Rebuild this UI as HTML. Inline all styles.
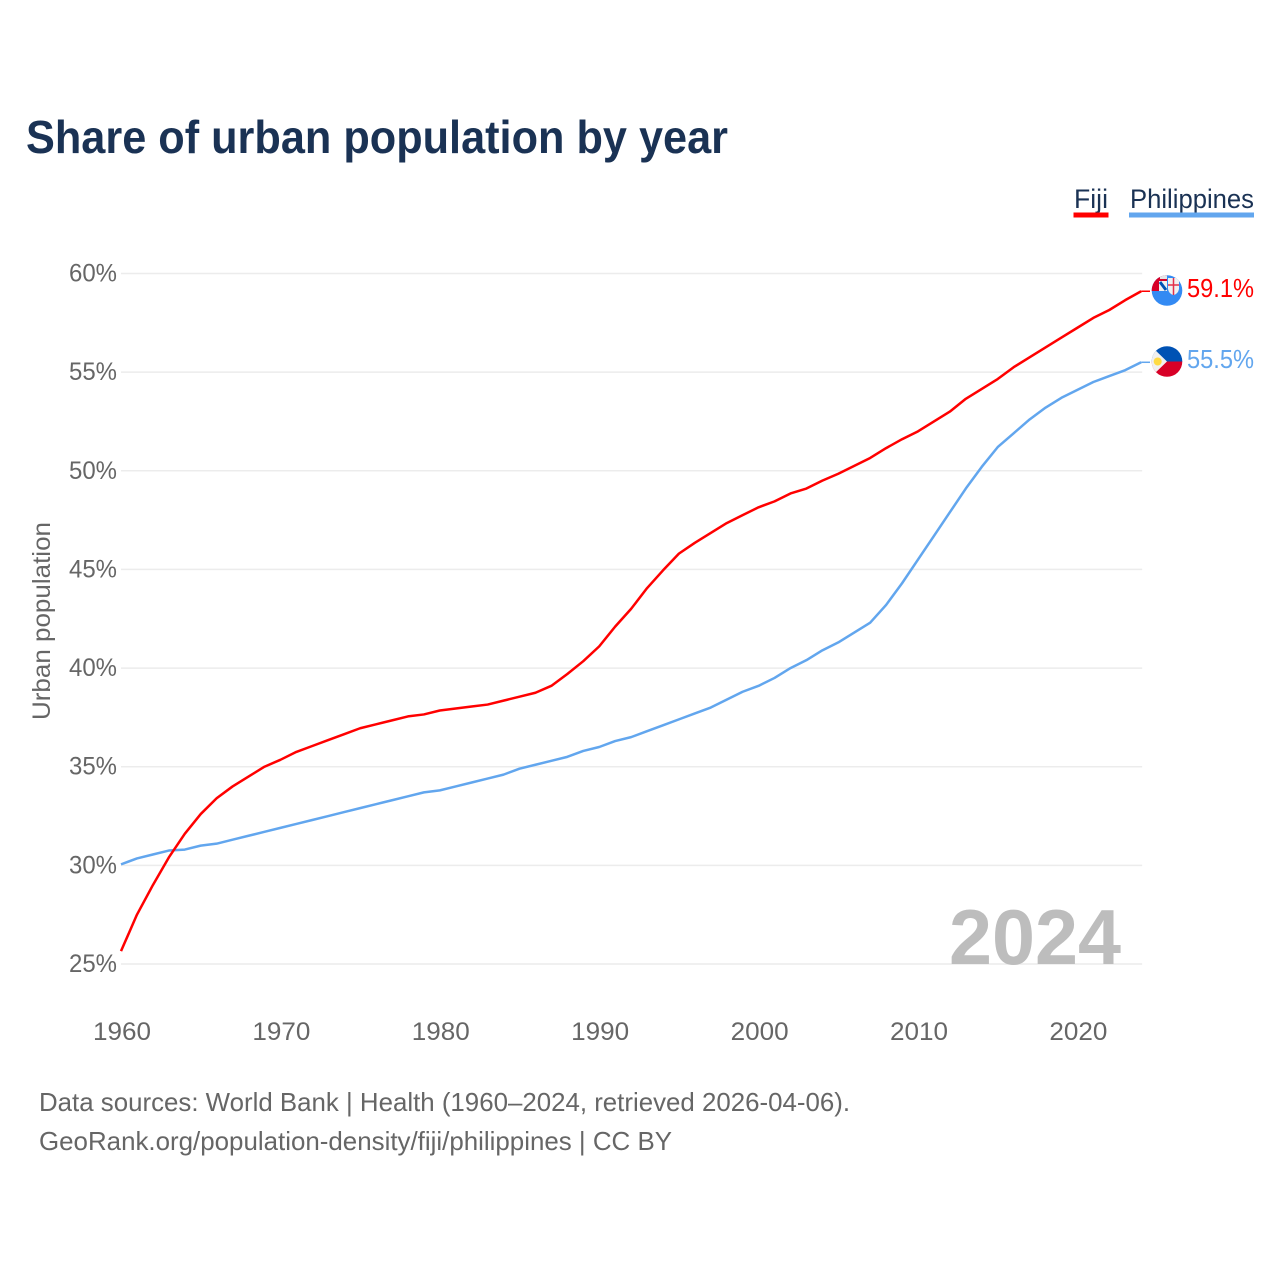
<!DOCTYPE html>
<html lang="en">
<head>
<meta charset="utf-8">
<title>Share of urban population by year</title>
<style>
html,body{margin:0;padding:0;background:#fff;width:1280px;height:1280px;overflow:hidden}
svg{display:block;font-family:"Liberation Sans",sans-serif}
</style>
</head>
<body>
<svg id="chart" width="1280" height="1280" viewBox="0 0 1280 1280" xmlns="http://www.w3.org/2000/svg">
  <defs>
    <clipPath id="fiji-clip"><circle cx="1167" cy="290.5" r="15.3"/></clipPath>
    <clipPath id="ph-clip"><circle cx="1167" cy="361.5" r="15.3"/></clipPath>
  </defs>
  <text x="26" y="153" font-size="46" font-weight="700" fill="#1a3254" textLength="702" lengthAdjust="spacingAndGlyphs">Share of urban population by year</text>

  <g>
    <g>
      <text x="1074" y="208" font-size="27" fill="#1a3254" textLength="34" lengthAdjust="spacingAndGlyphs">Fiji</text>
      <rect x="1073.500" y="212.500" width="35" height="5" fill="#ff0000"/>
    </g>
    <g>
      <text x="1130" y="208" font-size="27" fill="#1a3254" textLength="124" lengthAdjust="spacingAndGlyphs">Philippines</text>
      <rect x="1129" y="212.500" width="125" height="5" fill="#62a6ee"/>
    </g>
  </g>

  <g id="grid"></g>
  <g id="y-ticks"></g>
  <g id="x-ticks"></g>

  <text transform="translate(50,621) rotate(-90)" text-anchor="middle" font-size="25" fill="#666666" textLength="198" lengthAdjust="spacingAndGlyphs">Urban population</text>

  <text x="1121" y="964" text-anchor="end" font-size="78" font-weight="700" fill="#bdbdbd" textLength="172" lengthAdjust="spacingAndGlyphs">2024</text>

  <g id="series"></g>

  <g clip-path="url(#fiji-clip)">
    <rect x="1150" y="274" width="34" height="34" fill="#338af3"/>
    <rect x="1150" y="274" width="17" height="17" fill="#d80027"/>
    <rect x="1160" y="274" width="7" height="5" fill="#e6e6e6"/>
    <rect x="1159" y="281" width="8" height="10" fill="#f0f0f0"/>
    <path d="M1160 282 L1166 290" stroke="#0052b4" stroke-width="3"/>
    <path d="M1168 278 H1179 V289 Q1178 294 1173.500 295 Q1169 294 1168 289 Z" fill="#f0f0f0"/>
    <path d="M1173.500 278 V295 M1168 285 H1179" stroke="#e2304b" stroke-width="1.500"/>
  </g>

  <g clip-path="url(#ph-clip)">
    <rect x="1150" y="345" width="34" height="16.500" fill="#0052b4"/>
    <rect x="1150" y="361.500" width="34" height="17" fill="#d80027"/>
    <path d="M1150 345 L1167 361.500 L1150 378 Z" fill="#f0f0f0"/>
    <circle cx="1157.700" cy="361.500" r="4" fill="#ffda44"/>
  </g>

  <text x="1254" y="297" text-anchor="end" font-size="26" fill="#ff0000" textLength="67" lengthAdjust="spacingAndGlyphs">59.1%</text>
  <text x="1254" y="368" text-anchor="end" font-size="26" fill="#62a6ee" textLength="67" lengthAdjust="spacingAndGlyphs">55.5%</text>

  <g>
    <text x="39" y="1111" font-size="26" fill="#666666" textLength="811" lengthAdjust="spacingAndGlyphs">Data sources: World Bank | Health (1960–2024, retrieved 2026-04-06).</text>
    <text x="39" y="1150" font-size="26" fill="#666666" textLength="633" lengthAdjust="spacingAndGlyphs">GeoRank.org/population-density/fiji/philippines | CC BY</text>
  </g>
</svg>
<script>
const years = [];
for (let y = 1960; y <= 2024; y++) years.push(y);

const fijiValues = [25.65,27.5,29.0,30.4,31.6,32.6,33.4,34.0,34.5,35.0,35.35,35.75,36.05,36.35,36.65,36.95,37.15,37.35,37.55,37.65,37.85,37.95,38.05,38.15,38.35,38.55,38.75,39.1,39.7,40.35,41.1,42.1,43.0,44.05,44.95,45.8,46.35,46.85,47.35,47.75,48.15,48.45,48.85,49.1,49.5,49.85,50.25,50.65,51.15,51.6,52.0,52.5,53.0,53.65,54.15,54.65,55.25,55.75,56.25,56.75,57.25,57.75,58.15,58.65,59.1];
const philippinesValues = [30.05,30.35,30.55,30.75,30.8,31.0,31.1,31.3,31.5,31.7,31.9,32.1,32.3,32.5,32.7,32.9,33.1,33.3,33.5,33.7,33.8,34.0,34.2,34.4,34.6,34.9,35.1,35.3,35.5,35.8,36.0,36.3,36.5,36.8,37.1,37.4,37.7,38.0,38.4,38.8,39.1,39.5,40.0,40.4,40.9,41.3,41.8,42.3,43.2,44.3,45.5,46.7,47.9,49.1,50.2,51.2,51.9,52.6,53.2,53.7,54.1,54.5,54.8,55.1,55.5];
const yTickValues = [25,30,35,40,45,50,55,60];
const xTickValues = [1960,1970,1980,1990,2000,2010,2020];

const NS = 'http://www.w3.org/2000/svg';
const xScale = function (year) { return 121 + (year - 1960) * 15.94; };
const yScale = function (pct) { return 964 - (pct - 25) * (964 - 273.5) / 35; };

const gridGroup = document.getElementById('grid');
const yGroup = document.getElementById('y-ticks');
const xGroup = document.getElementById('x-ticks');
const seriesGroup = document.getElementById('series');

yTickValues.forEach(function (v) {
  const line = document.createElementNS(NS, 'line');
  
  
  line.setAttribute('x1', 121);
  line.setAttribute('x2', xScale(2024) + 1);
  line.setAttribute('y1', yScale(v));
  line.setAttribute('y2', yScale(v));
  line.setAttribute('stroke', '#ececec');
  line.setAttribute('stroke-width', '1.5');
  gridGroup.appendChild(line);

  const label = document.createElementNS(NS, 'text');
  
  
  label.setAttribute('x', 117);
  label.setAttribute('y', yScale(v) + 8);
  label.setAttribute('text-anchor', 'end');
  label.setAttribute('font-size', '25');
  label.setAttribute('fill', '#666666');
  label.setAttribute('textLength', '48');
  label.setAttribute('lengthAdjust', 'spacingAndGlyphs');
  label.textContent = v + '%';
  yGroup.appendChild(label);
});

xTickValues.forEach(function (v) {
  const label = document.createElementNS(NS, 'text');
  
  
  label.setAttribute('x', xScale(v) + 1);
  label.setAttribute('y', 1040);
  label.setAttribute('text-anchor', 'middle');
  label.setAttribute('font-size', '25');
  label.setAttribute('fill', '#666666');
  label.setAttribute('textLength', '58');
  label.setAttribute('lengthAdjust', 'spacingAndGlyphs');
  label.textContent = v;
  xGroup.appendChild(label);
});

function pathFor(values) {
  return values.map(function (v, i) {
    return (i ? 'L' : 'M') + xScale(years[i]).toFixed(2) + ' ' + yScale(v).toFixed(2);
  }).join(' ');
}

const philippinesLine = document.createElementNS(NS, 'path');


philippinesLine.setAttribute('d', pathFor(philippinesValues));
philippinesLine.setAttribute('fill', 'none');
philippinesLine.setAttribute('stroke', '#62a6ee');
philippinesLine.setAttribute('stroke-width', '2.5');
philippinesLine.setAttribute('stroke-linejoin', 'round');
seriesGroup.appendChild(philippinesLine);

const fijiLine = document.createElementNS(NS, 'path');


fijiLine.setAttribute('d', pathFor(fijiValues));
fijiLine.setAttribute('fill', 'none');
fijiLine.setAttribute('stroke', '#ff0000');
fijiLine.setAttribute('stroke-width', '2.5');
fijiLine.setAttribute('stroke-linejoin', 'round');
seriesGroup.appendChild(fijiLine);

const fijiLeader = document.createElementNS(NS, 'line');


fijiLeader.setAttribute('x1', xScale(2024));
fijiLeader.setAttribute('x2', 1150);
fijiLeader.setAttribute('y1', yScale(fijiValues[fijiValues.length - 1]));
fijiLeader.setAttribute('y2', yScale(fijiValues[fijiValues.length - 1]));
fijiLeader.setAttribute('stroke', '#ff0000');
fijiLeader.setAttribute('stroke-width', '1.5');
seriesGroup.appendChild(fijiLeader);

const philippinesLeader = document.createElementNS(NS, 'line');


philippinesLeader.setAttribute('x1', xScale(2024));
philippinesLeader.setAttribute('x2', 1150);
philippinesLeader.setAttribute('y1', yScale(philippinesValues[philippinesValues.length - 1]));
philippinesLeader.setAttribute('y2', yScale(philippinesValues[philippinesValues.length - 1]));
philippinesLeader.setAttribute('stroke', '#62a6ee');
philippinesLeader.setAttribute('stroke-width', '1.5');
seriesGroup.appendChild(philippinesLeader);
</script>
</body>
</html>
